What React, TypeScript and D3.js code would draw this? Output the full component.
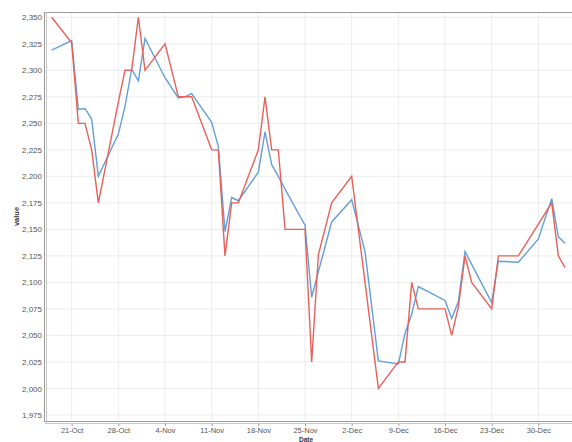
import React, { useEffect, useRef } from "react";
import * as d3 from "d3";

// trading days shown in the chart
const dates = [
  "2013-10-18", "2013-10-21", "2013-10-22", "2013-10-23", "2013-10-24", "2013-10-25",
  "2013-10-28", "2013-10-29", "2013-10-30", "2013-10-31", "2013-11-01",
  "2013-11-04", "2013-11-06", "2013-11-07", "2013-11-08",
  "2013-11-11", "2013-11-12", "2013-11-13", "2013-11-14", "2013-11-15",
  "2013-11-18", "2013-11-19", "2013-11-20", "2013-11-21", "2013-11-22",
  "2013-11-25", "2013-11-26", "2013-11-27", "2013-11-29",
  "2013-12-02", "2013-12-04", "2013-12-06",
  "2013-12-09", "2013-12-10", "2013-12-11", "2013-12-12",
  "2013-12-16", "2013-12-17", "2013-12-18", "2013-12-19", "2013-12-20",
  "2013-12-23", "2013-12-24", "2013-12-27",
  "2013-12-30", "2014-01-01", "2014-01-02", "2014-01-03",
];

const redValues = [
  2350, 2326, 2250, 2250, 2225, 2175,
  2270, 2300, 2300, 2350, 2300,
  2325, 2275, 2275, 2275,
  2225, 2225, 2125, 2175, 2175,
  2225, 2275, 2225, 2225, 2150,
  2150, 2025, 2126, 2175,
  2200, 2100, 2000,
  2025, 2025, 2100, 2075,
  2075, 2050, 2077, 2125, 2100,
  2075, 2125, 2125,
  2155, 2175, 2125, 2114,
];

const blueValues = [
  2319, 2328, 2263, 2264, 2254, 2200,
  2240, 2266, 2301, 2290, 2330,
  2293, 2274, 2275, 2278,
  2251, 2228, 2148, 2180, 2177,
  2204, 2242, 2211, 2200, 2188,
  2154, 2086, 2110, 2157,
  2178, 2129, 2026,
  2023, 2052, 2070, 2096,
  2083, 2066, 2082, 2129, 2117,
  2081, 2120, 2119,
  2141, 2179, 2143, 2137,
];

const yTicks = [1975, 2000, 2025, 2050, 2075, 2100, 2125, 2150, 2175, 2200, 2225, 2250, 2275, 2300, 2325, 2350];
const xTicks = [
  "2013-10-21", "2013-10-28", "2013-11-04", "2013-11-11", "2013-11-18",
  "2013-11-25", "2013-12-02", "2013-12-09", "2013-12-16", "2013-12-23", "2013-12-30",
];

const Chart = () => {
  const ref = useRef(null);

  useEffect(() => {
    const width = 572;
    const height = 442;
    const left = 45;
    const top = 12;
    const right = 585;
    const bottom = 421;

    const parse = d3.utcParse("%Y-%m-%d");
    const svg = d3.select(ref.current).attr("width", width).attr("height", height);

    const x = d3
      .scaleUtc()
      .domain([parse("2013-10-17"), parse("2014-01-04")])
      .range([left, 571.7]);
    const y = d3.scaleLinear().domain([1969.3, 2354.7]).range([bottom, 12.3]);

    svg
      .append("defs")
      .append("clipPath")
      .attr("id", "plot-clip")
      .append("rect")
      .attr("x", left)
      .attr("y", top)
      .attr("width", right - left)
      .attr("height", bottom - top);

    // grid
    const grid = svg.append("g");
    grid
      .selectAll("line.h")
      .data(yTicks)
      .enter()
      .append("line")
      .attr("x1", left)
      .attr("x2", right)
      .attr("y1", (d) => y(d))
      .attr("y2", (d) => y(d))
      .attr("stroke", "#ececec");
    grid
      .selectAll("line.v")
      .data(xTicks)
      .enter()
      .append("line")
      .attr("x1", (d) => x(parse(d)))
      .attr("x2", (d) => x(parse(d)))
      .attr("y1", top)
      .attr("y2", bottom)
      .attr("stroke", "#ececec");

    // frame
    svg
      .append("rect")
      .attr("x", left - 0.5)
      .attr("y", top + 0.5)
      .attr("width", right - left)
      .attr("height", bottom - top)
      .attr("fill", "none")
      .attr("stroke", "#9a9a9a");
    svg
      .append("line")
      .attr("x1", left + 1.5)
      .attr("x2", left + 1.5)
      .attr("y1", top)
      .attr("y2", bottom + 2)
      .attr("stroke", "#c8c8c8");
    svg
      .append("line")
      .attr("x1", left)
      .attr("x2", right)
      .attr("y1", bottom + 2.5)
      .attr("y2", bottom + 2.5)
      .attr("stroke", "#c8c8c8");

    // y axis labels
    const yAxis = svg
      .append("g")
      .attr("transform", `translate(${left - 1},0)`)
      .call(d3.axisLeft(y).tickValues(yTicks).tickFormat(d3.format(",")).tickSize(0).tickPadding(2));
    yAxis.select(".domain").remove();
    yAxis
      .selectAll("text")
      .attr("font-family", "Arial, 'Liberation Sans', sans-serif")
      .attr("font-size", 8)
      .attr("fill", "#555");

    // x axis labels
    const xAxis = svg
      .append("g")
      .attr("transform", `translate(0,${bottom + 3})`)
      .call(
        d3
          .axisBottom(x)
          .tickValues(xTicks.map((d) => parse(d)))
          .tickFormat(d3.utcFormat("%-d-%b"))
          .tickSize(2)
          .tickPadding(1.5)
      );
    xAxis.select(".domain").remove();
    xAxis.selectAll("line").attr("stroke", "#999");
    xAxis
      .selectAll("text")
      .attr("font-family", "Arial, 'Liberation Sans', sans-serif")
      .attr("font-size", 7.5)
      .attr("fill", "#555");

    // axis titles
    svg
      .append("text")
      .attr("transform", `translate(19,${(top + bottom) / 2}) rotate(-90)`)
      .attr("text-anchor", "middle")
      .attr("font-family", "Arial, 'Liberation Sans', sans-serif")
      .attr("font-size", 7.5)
      .attr("font-weight", "bold")
      .attr("fill", "#333")
      .text("value");
    svg
      .append("text")
      .attr("x", 306)
      .attr("y", 441.6)
      .attr("text-anchor", "middle")
      .attr("font-family", "Arial, 'Liberation Sans', sans-serif")
      .attr("font-size", 6.5)
      .attr("font-weight", "bold")
      .attr("fill", "#333")
      .text("Date");

    // series
    const series = [
      { values: blueValues, color: "#629fd8" },
      { values: redValues, color: "#e8605a" },
    ];
    const line = d3
      .line()
      .x((d) => x(d[0]))
      .y((d) => y(d[1]));

    const plot = svg.append("g").attr("clip-path", "url(#plot-clip)");
    series.forEach((s) => {
      plot
        .append("path")
        .datum(dates.map((d, i) => [parse(d), s.values[i]]))
        .attr("d", line)
        .attr("fill", "none")
        .attr("stroke", s.color)
        .attr("stroke-width", 1.4)
        .attr("stroke-linejoin", "miter");
    });

    return () => {
      d3.select(ref.current).selectAll("*").remove();
    };
  }, []);

  return <svg ref={ref} style={{ position: "absolute", left: 0, top: 0, background: "#fff" }}></svg>;
};

export default function App() {
  return <Chart />;
}
